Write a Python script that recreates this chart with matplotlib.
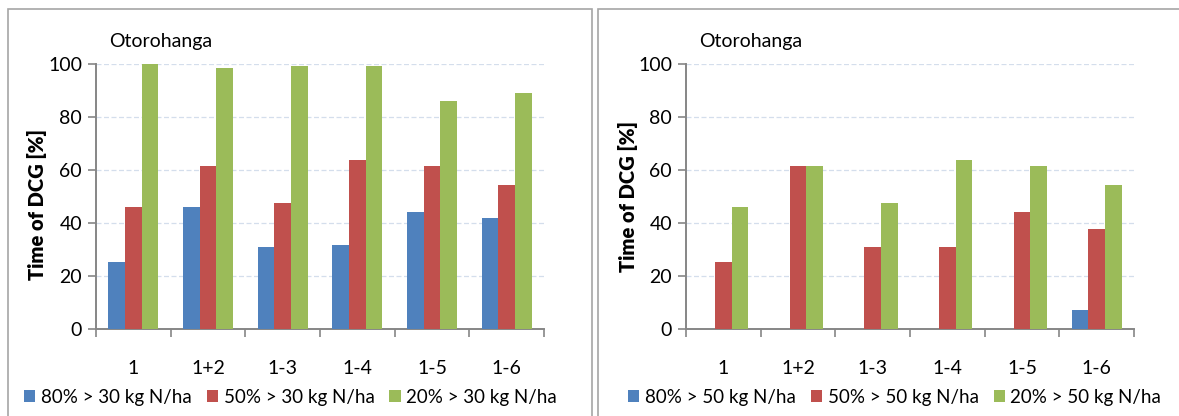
import matplotlib
matplotlib.use("Agg")
import matplotlib.pyplot as plt
from matplotlib.patches import Rectangle, Patch
import numpy as np

plt.rcParams['font.family'] = ['Lato', 'DejaVu Sans']

categories = ["1", "1+2", "1-3", "1-4", "1-5", "1-6"]

# Share of time with daily crop growth above a threshold (%)
left_80 = [25.3, 46.2, 30.9, 31.9, 44.2, 41.9]
left_50 = [46.2, 61.5, 47.5, 64.0, 61.5, 54.5]
left_20 = [100.0, 98.5, 99.2, 99.2, 86.2, 89.3]
left_labels = ["80% > 30 kg N/ha", "50% > 30 kg N/ha", "20% > 30 kg N/ha"]

right_80 = [0.0, 0.0, 0.0, 0.0, 0.0, 7.3]
right_50 = [25.3, 61.5, 30.9, 30.9, 44.2, 38.0]
right_20 = [46.2, 61.5, 47.5, 64.0, 61.5, 54.5]
right_labels = ["80% > 50 kg N/ha", "50% > 50 kg N/ha", "20% > 50 kg N/ha"]

site = "Otorohanga"
ylabel = "Time of DCG [%]"
yticks = [0, 20, 40, 60, 80, 100]

colors = ["#4F81BD", "#C0504D", "#9BBB59"]
axis_grey = "#868686"

W, H = 1179, 416
fig = plt.figure(figsize=(W / 100, H / 100), dpi=100)


def px_rect(x0, y0, x1, y1):
    return [x0 / W, 1 - y1 / H, (x1 - x0) / W, (y1 - y0) / H]


# Panel frames
for x0, x1 in [(8, 592), (598, 1200)]:
    fig.add_artist(Rectangle((x0 / W, -0.05), (x1 - x0) / W, 1.05 - 9 / H,
                             transform=fig.transFigure, fill=False,
                             edgecolor="#a6a6a6", linewidth=1.2))


def draw_panel(ax_box, series, labels, ylab_x, ylab_y, leg_x, title_x):
    ax = fig.add_axes(px_rect(*ax_box))
    x = np.arange(len(categories))
    w = 0.223
    for i, (vals, c) in enumerate(zip(series, colors)):
        ax.bar(x + (i - 1) * w, vals, width=w, color=c, edgecolor="none", zorder=3)
    ax.set_xlim(-0.5, len(categories) - 0.5)
    ax.set_ylim(0, 100)
    ax.set_yticks(yticks)
    ax.set_yticklabels([str(t) for t in yticks], fontsize=14)
    ax.set_xticks(np.arange(len(categories) + 1) - 0.5)
    ax.set_xticklabels([])
    ax.set_xticks(x, minor=True)
    ax.set_xticklabels(categories, minor=True, fontsize=14)
    ax.tick_params(axis="x", which="minor", length=0, pad=22)
    ax.tick_params(axis="x", which="major", length=6, width=1.2, color=axis_grey, direction="out")
    ax.tick_params(axis="y", length=6, width=1.2, color=axis_grey, direction="out", pad=4)
    for s in ["top", "right"]:
        ax.spines[s].set_visible(False)
    for s in ["left", "bottom"]:
        ax.spines[s].set_color(axis_grey)
        ax.spines[s].set_linewidth(1.4)
    ax.yaxis.grid(True, color="#D4DEEC", linestyle=(0, (4, 2)), linewidth=0.9, zorder=0)
    ax.set_axisbelow(True)
    fig.text(ylab_x / W, 1 - ylab_y / H, ylabel, rotation=90, fontsize=14.5,
             fontweight="heavy", ha="center", va="center")
    fig.text(title_x / W, 1 - 42 / H, site, fontsize=14, ha="left", va="center")
    handles = [Patch(facecolor=c, edgecolor="none") for c in colors]
    fig.legend(handles, labels, loc="center left",
               bbox_to_anchor=(leg_x / W, 1 - 397 / H), ncol=3, frameon=False,
               fontsize=13.5, handlelength=0.6, handleheight=0.6,
               handletextpad=0.3, columnspacing=0.8, borderaxespad=0, borderpad=0)
    return ax


draw_panel((96, 64.3, 544, 329.3), [left_80, left_50, left_20], left_labels,
           37, 205, 24, 109)
draw_panel((686, 64.3, 1134, 329.3), [right_80, right_50, right_20], right_labels,
           628, 197, 628, 699)

fig.savefig("out.png", dpi=100)
